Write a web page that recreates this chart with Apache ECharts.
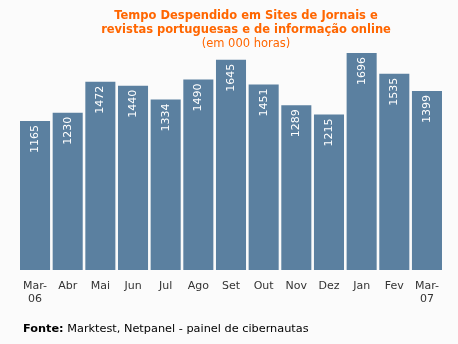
<!DOCTYPE html>
<html>
<head>
<meta charset="utf-8">
<script src="https://cdn.jsdelivr.net/npm/echarts@6/dist/echarts.min.js"></script>
<style>
  html, body { margin: 0; padding: 0; background: #fbfbfb; }
  #chart { width: 458px; height: 344px; }
</style>
</head>
<body>
<div id="chart"></div>
<script>
// Monthly time spent on Portuguese news sites (thousand hours)
const months = ['Mar-\n06', 'Abr', 'Mai', 'Jun', 'Jul', 'Ago', 'Set', 'Out', 'Nov', 'Dez', 'Jan', 'Fev', 'Mar-\n07'];
const hours = [1165, 1230, 1472, 1440, 1334, 1490, 1645, 1451, 1289, 1215, 1696, 1535, 1399];

const titleLines = ['Tempo Despendido em Sites de Jornais e', 'revistas portuguesas e de informação online'];
const subtitle = '(em 000 horas)';
const sourceLabel = 'Fonte:';
const sourceText = ' Marktest, Netpanel - painel de cibernautas';

const FONT = '"DejaVu Sans", Verdana, sans-serif';
const ORANGE = '#ff6600';
const chart = echarts.init(document.getElementById('chart'));

const titleGraphics = titleLines.map((line, i) => ({
  type: 'text',
  x: 246,
  y: 16 + i * 14,
  style: {
    text: line,
    font: 'bold 11.5px ' + FONT,
    fill: ORANGE,
    align: 'center',
    verticalAlign: 'middle'
  }
}));

chart.setOption({
  backgroundColor: '#fbfbfb',
  animation: false,
  graphic: titleGraphics.concat([{
    type: 'text',
    x: 246,
    y: 44,
    style: {
      text: subtitle,
      font: '11.5px ' + FONT,
      fill: ORANGE,
      align: 'center',
      verticalAlign: 'middle'
    }
  }, {
    type: 'text',
    x: 23,
    y: 329,
    style: {
      text: '{b|' + sourceLabel + '}' + sourceText,
      font: '11.3px ' + FONT,
      fill: '#000',
      verticalAlign: 'middle',
      rich: { b: { fontWeight: 'bold', fontFamily: FONT, fontSize: 11.3, fill: '#000' } }
    }
  }]),
  grid: { left: 18.7, right: 14.7, top: 52.6, bottom: 74 },
  xAxis: {
    type: 'category',
    data: months,
    axisLine: { show: false },
    axisTick: { show: false },
    axisLabel: { interval: 0, margin: 10, fontFamily: FONT, fontSize: 11, color: '#333', lineHeight: 13 }
  },
  yAxis: {
    type: 'value',
    min: 0,
    max: 1700,
    show: false,
    splitLine: { show: false }
  },
  series: [{
    type: 'bar',
    data: hours,
    barCategoryGap: '8%',
    itemStyle: { color: '#5b80a0' },
    label: {
      show: true,
      position: 'insideTop',
      rotate: 90,
      align: 'right',
      verticalAlign: 'middle',
      distance: 4,
      fontFamily: FONT,
      fontSize: 11,
      color: '#fff'
    }
  }]
});
</script>
</body>
</html>
